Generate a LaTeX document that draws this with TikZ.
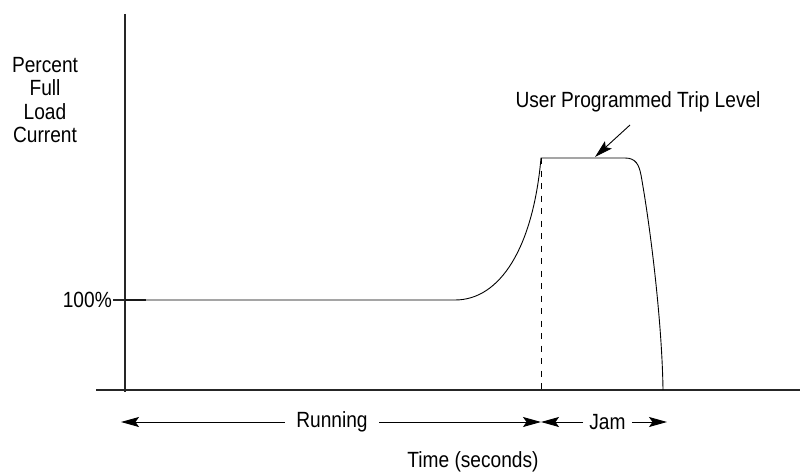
\documentclass[tikz,border=0pt]{standalone}
\usepackage{fontspec}
\setmainfont{Liberation Sans}[FakeStretch=0.87]
\usetikzlibrary{arrows.meta}
\begin{document}
\begin{tikzpicture}[x=1pt,y=-1pt,
  lbl/.style={font=\fontsize{22}{23.5}\selectfont, inner sep=0pt},
  axis/.style={line width=1.1pt, draw=black!85},
  curve/.style={line width=0.9pt},
  arr/.style={line width=0.9pt, -{Stealth[length=18pt,width=10pt,inset=3.5pt]}}]
\useasboundingbox (0,0) rectangle (800,476);
% axes
\coordinate (ytop) at (125,14);
\coordinate (ybot) at (125,392);
\coordinate (xl) at (96,390);
\coordinate (xr) at (800,390);
\draw[axis] (ytop) -- (ybot);
\draw[axis] (xl) -- (xr);
% labels
\node[lbl, align=center] (ylab) at (45,100) {Percent\\Full\\Load\\Current};
\node[lbl, anchor=east] (pct) at (112,300) {100\%};
\coordinate (tickL) at (113,300);
\coordinate (tickR) at (146,300);
\draw[axis] (tickL) -- (tickR);
% curve
\coordinate (c0) at (125,300);
\coordinate (c1) at (455,300);
\coordinate (peak) at (541,158);
\coordinate (flatE) at (625,158);
\coordinate (corner) at (641,175);
\coordinate (drop) at (663,390);
\draw[curve] (c0) -- (c1)
  .. controls (500,300) and (533,248) .. (peak)
  -- (flatE)
  .. controls (636,158) and (639,165) .. (corner)
  .. controls (650,225) and (662,320) .. (drop);
% dashed
\coordinate (dbot) at (541,390);
\draw[line width=0.8pt, dash pattern=on 6pt off 6.5pt] (peak) -- (dbot);
% annotation
\node[lbl] (trip) at (638,102) {User Programmed Trip Level};
\coordinate (tripS) at (630,125);
\coordinate (tripE) at (595,157);
\draw[arr] (tripS) -- (tripE);
% arrows row
\coordinate (runL) at (121,422);
\coordinate (mid) at (541,422);
\coordinate (jamR) at (667,422);
\node[lbl, inner xsep=11.5pt] (run) at (332,422) {Running};
\node[lbl, inner xsep=6pt] (jam) at (607.5,422) {Jam};
\draw[arr] (run) -- (runL);
\draw[arr] (run) -- (mid);
\draw[arr] (jam) -- (mid);
\draw[arr] (jam) -- (jamR);
\node[lbl] (time) at (473,462) {Time (seconds)};
\end{tikzpicture}
\end{document}
